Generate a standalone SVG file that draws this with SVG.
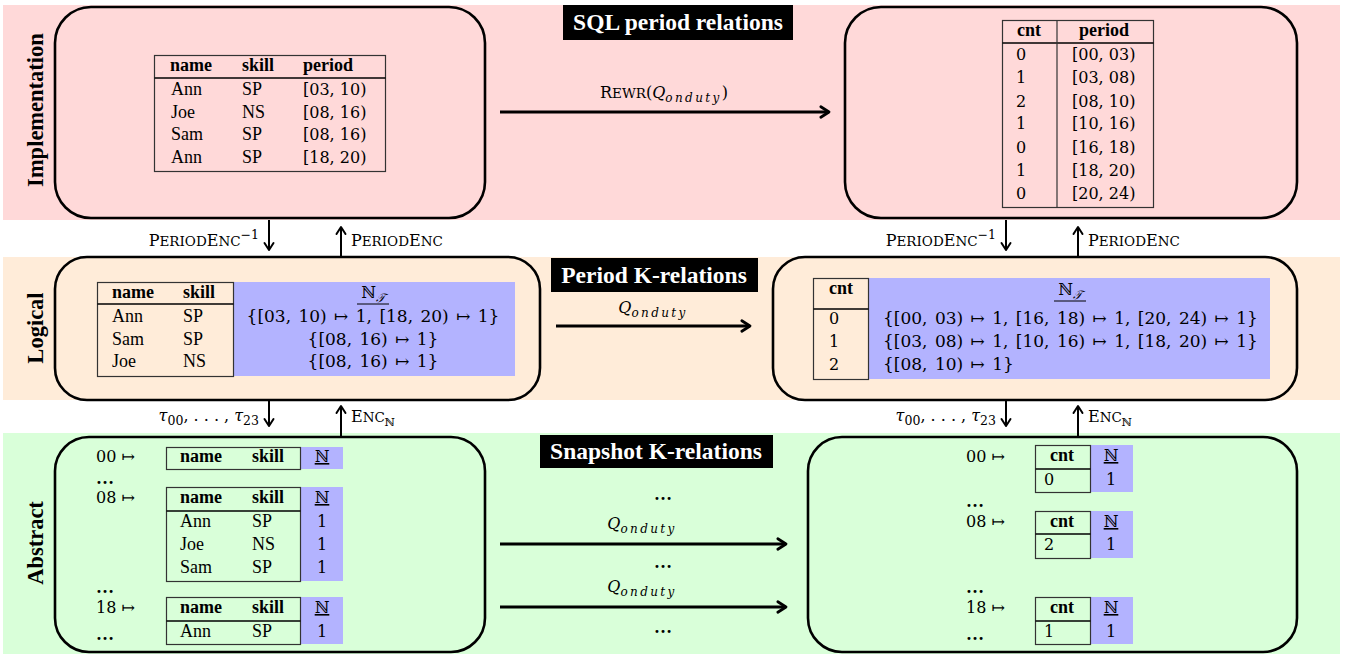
<svg xmlns="http://www.w3.org/2000/svg" width="1348" height="654" viewBox="0 0 1348 654">
<defs>
<style>
.t{font-family:"Liberation Serif","Times New Roman",serif;font-size:18px;fill:#000}
.b{font-weight:bold}
.m{font-family:"DejaVu Serif","Liberation Serif",serif;font-size:16px;fill:#000}
.row{font-size:17px;word-spacing:2px}
.i{font-style:italic}
.sub{font-size:12px;letter-spacing:2.4px}
.s{font-size:13.5px}
.side{font-family:"Liberation Serif",serif;font-size:22.5px;font-weight:bold;fill:#000}
.hdr{font-family:"Liberation Serif",serif;font-size:23.5px;font-weight:bold;fill:#fff}
.box{fill:none;stroke:#000;stroke-width:2.6}
.tbl{fill:none;stroke:#333;stroke-width:1.2}
.hl{stroke:#000;stroke-width:1.3}
.blue{fill:#b3b3ff}
.arr{fill:none;stroke:#000;stroke-width:2.8}
.varr{fill:none;stroke:#000;stroke-width:2}
.c{text-anchor:middle}
.e{text-anchor:end}
</style>
<marker id="ah" viewBox="0 0 12 12" refX="10" refY="6" markerWidth="14" markerHeight="14" markerUnits="userSpaceOnUse" orient="auto" overflow="visible">
<path d="M3,1.500 L10,6 L3,10.500" fill="none" stroke="#000" stroke-width="2.4" stroke-linecap="round" stroke-linejoin="round"/>
</marker>
<marker id="ahs" viewBox="0 0 12 12" refX="10" refY="6" markerWidth="12" markerHeight="12" markerUnits="userSpaceOnUse" orient="auto" overflow="visible">
<path d="M3,1.500 L10,6 L3,10.500" fill="none" stroke="#000" stroke-width="2" stroke-linecap="round" stroke-linejoin="round"/>
</marker>
</defs>
<rect width="1348" height="654" fill="#fff"/>
<!-- bands -->
<rect x="3" y="5" width="1337" height="215" fill="#ffd9d9"/>
<rect x="3" y="257" width="1337" height="143" fill="#ffecd9"/>
<rect x="3" y="433" width="1337" height="221" fill="#d9ffd9"/>
<text class="side c" transform="translate(43,110) rotate(-90)">Implementation</text>
<text class="side c" transform="translate(43,328) rotate(-90)">Logical</text>
<text class="side c" transform="translate(43,543) rotate(-90)">Abstract</text>

<!-- headers -->
<g id="hdr-sql"><rect x="563" y="5" width="230" height="35" fill="#000"/><text class="hdr c" x="678" y="30">SQL period relations</text></g>
<g id="hdr-period"><rect x="551" y="258" width="207" height="34" fill="#000"/><text class="hdr c" x="654" y="283">Period K-relations</text></g>
<g id="hdr-snap"><rect x="540" y="435" width="233" height="33" fill="#000"/><text class="hdr c" x="656" y="459">Snapshot K-relations</text></g>

<!-- Implementation left -->
<g id="impl-left">
<rect class="box" x="55" y="7" width="430" height="211" rx="36"/>
<rect class="tbl" x="154.500" y="55.500" width="231" height="116"/>
<line class="hl" x1="154.500" y1="78" x2="385.500" y2="78"/>
<text class="t b" x="170" y="71">name</text><text class="t b" x="242" y="71">skill</text><text class="t b" x="303" y="71">period</text>
<text class="t" x="171" y="95">Ann</text><text class="t" x="242" y="95">SP</text><text class="m" x="303" y="95">[03, 10)</text>
<text class="t" x="171" y="118">Joe</text><text class="t" x="242" y="118">NS</text><text class="m" x="303" y="118">[08, 16)</text>
<text class="t" x="171" y="140">Sam</text><text class="t" x="242" y="140">SP</text><text class="m" x="303" y="140">[08, 16)</text>
<text class="t" x="171" y="163">Ann</text><text class="t" x="242" y="163">SP</text><text class="m" x="303" y="163">[18, 20)</text>
</g>

<!-- Implementation right -->
<g id="impl-right">
<rect class="box" x="845" y="7" width="452" height="211" rx="36"/>
<rect class="tbl" x="1002.500" y="20.500" width="151" height="187"/>
<line class="hl" x1="1002.500" y1="43" x2="1153.500" y2="43"/>
<line class="tbl" x1="1057" y1="20.500" x2="1057" y2="207.500"/>
<text class="t b c" x="1029" y="36">cnt</text><text class="t b c" x="1104" y="36">period</text>
<g class="m">
<text x="1016" y="60">0</text><text x="1016" y="83">1</text><text x="1016" y="107">2</text><text x="1016" y="129">1</text><text x="1016" y="153">0</text><text x="1016" y="176">1</text><text x="1016" y="199">0</text>
<text x="1072" y="60">[00, 03)</text><text x="1072" y="83">[03, 08)</text><text x="1072" y="107">[08, 10)</text><text x="1072" y="129">[10, 16)</text><text x="1072" y="153">[16, 18)</text><text x="1072" y="176">[18, 20)</text><text x="1072" y="199">[20, 24)</text>
</g>
</g>

<!-- Logical left -->
<g id="logical-left">
<rect class="box" x="55" y="257" width="485" height="143" rx="32"/>
<rect class="blue" x="233" y="282" width="282" height="94"/>
<rect class="tbl" x="97.500" y="282.500" width="136" height="94"/>
<line class="hl" x1="97.500" y1="304" x2="233.500" y2="304"/>
<text class="t b" x="112" y="298">name</text><text class="t b" x="183" y="298">skill</text>
<text class="t" x="112" y="322">Ann</text><text class="t" x="183" y="322">SP</text>
<text class="t" x="112" y="345">Sam</text><text class="t" x="183" y="345">SP</text>
<text class="t" x="112" y="367">Joe</text><text class="t" x="183" y="367">NS</text>
<text class="m c" x="373" y="298">ℕ<tspan class="i" font-size="12" dy="4">𝒯</tspan></text>
<line x1="357" y1="304" x2="389" y2="304" stroke="#000" stroke-width="1"/>
<text class="m row c" x="373" y="322">{[03, 10) ↦ 1, [18, 20) ↦ 1}</text>
<text class="m row c" x="373" y="345">{[08, 16) ↦ 1}</text>
<text class="m row c" x="373" y="367">{[08, 16) ↦ 1}</text>
</g>

<!-- Logical right -->
<g id="logical-right">
<rect class="box" x="773" y="257" width="524" height="143" rx="32"/>
<rect class="blue" x="868" y="278" width="402" height="101"/>
<rect class="tbl" x="813.500" y="278.500" width="55" height="101"/>
<line class="hl" x1="813.500" y1="309" x2="868.500" y2="309"/>
<text class="t b c" x="841" y="294">cnt</text>
<text class="m" x="829" y="324">0</text><text class="m" x="829" y="347">1</text><text class="m" x="829" y="370">2</text>
<text class="m c" x="1070" y="295">ℕ<tspan class="i" font-size="12" dy="4">𝒯</tspan></text>
<line x1="1054" y1="301" x2="1086" y2="301" stroke="#000" stroke-width="1"/>
<text class="m row" x="883" y="324">{[00, 03) ↦ 1, [16, 18) ↦ 1, [20, 24) ↦ 1}</text>
<text class="m row" x="883" y="347">{[03, 08) ↦ 1, [10, 16) ↦ 1, [18, 20) ↦ 1}</text>
<text class="m row" x="883" y="370">{[08, 10) ↦ 1}</text>
</g>

<!-- Abstract left -->
<g id="abstract-left">
<rect class="box" x="55" y="437" width="430" height="215" rx="34"/>
<text class="m" x="96" y="462">00 ↦</text>
<rect class="blue" x="300" y="447" width="43" height="22"/>
<rect class="tbl" x="166.500" y="447.500" width="134" height="22"/>
<text class="t b" x="180" y="462">name</text><text class="t b" x="252" y="462">skill</text>
<text class="m c" x="322" y="462" text-decoration="underline">ℕ</text>
<text class="t b" x="96" y="484">…</text>
<text class="m" x="96" y="503">08 ↦</text>
<rect class="blue" x="300" y="487" width="43" height="94"/>
<rect class="tbl" x="166.500" y="487.500" width="134" height="94"/>
<line class="hl" x1="166.500" y1="511" x2="300.500" y2="511"/>
<text class="t b" x="180" y="503">name</text><text class="t b" x="252" y="503">skill</text>
<text class="m c" x="322" y="503" text-decoration="underline">ℕ</text>
<text class="t" x="180" y="527">Ann</text><text class="t" x="252" y="527">SP</text><text class="m c" x="322" y="527">1</text>
<text class="t" x="180" y="550">Joe</text><text class="t" x="252" y="550">NS</text><text class="m c" x="322" y="550">1</text>
<text class="t" x="180" y="573">Sam</text><text class="t" x="252" y="573">SP</text><text class="m c" x="322" y="573">1</text>
<text class="t b" x="96" y="593">…</text>
<text class="m" x="96" y="613">18 ↦</text>
<rect class="blue" x="300" y="597" width="43" height="47"/>
<rect class="tbl" x="166.500" y="597.500" width="134" height="47"/>
<line class="hl" x1="166.500" y1="621" x2="300.500" y2="621"/>
<text class="t b" x="180" y="613">name</text><text class="t b" x="252" y="613">skill</text>
<text class="m c" x="322" y="613" text-decoration="underline">ℕ</text>
<text class="t" x="180" y="637">Ann</text><text class="t" x="252" y="637">SP</text><text class="m c" x="322" y="637">1</text>
<text class="t b" x="96" y="640">…</text>
</g>

<!-- Abstract right -->
<g id="abstract-right">
<rect class="box" x="808" y="437" width="489" height="215" rx="34"/>
<text class="m" x="966" y="462">00 ↦</text>
<rect class="blue" x="1090" y="445" width="43" height="47"/>
<rect class="tbl" x="1035.500" y="445.500" width="55" height="47"/>
<line class="hl" x1="1035.500" y1="469" x2="1090.500" y2="469"/>
<text class="t b c" x="1062" y="461">cnt</text><text class="m" x="1044" y="485">0</text>
<text class="m c" x="1111" y="461" text-decoration="underline">ℕ</text><text class="m c" x="1111" y="485">1</text>
<text class="t b" x="966" y="507">…</text>
<text class="m" x="966" y="527">08 ↦</text>
<rect class="blue" x="1090" y="511" width="43" height="47"/>
<rect class="tbl" x="1035.500" y="511.500" width="55" height="47"/>
<line class="hl" x1="1035.500" y1="534" x2="1090.500" y2="534"/>
<text class="t b c" x="1062" y="527">cnt</text><text class="m" x="1044" y="550">2</text>
<text class="m c" x="1111" y="527" text-decoration="underline">ℕ</text><text class="m c" x="1111" y="550">1</text>
<text class="t b" x="966" y="593">…</text>
<text class="m" x="966" y="613">18 ↦</text>
<rect class="blue" x="1090" y="597" width="43" height="47"/>
<rect class="tbl" x="1035.500" y="597.500" width="55" height="47"/>
<line class="hl" x1="1035.500" y1="621" x2="1090.500" y2="621"/>
<text class="t b c" x="1062" y="613">cnt</text><text class="m" x="1044" y="637">1</text>
<text class="m c" x="1111" y="613" text-decoration="underline">ℕ</text><text class="m c" x="1111" y="637">1</text>
<text class="t b" x="966" y="640">…</text>
</g>

<!-- connectors -->
<g id="connectors">
<line class="arr" x1="500" y1="112" x2="829" y2="112" marker-end="url(#ah)"/>
<text class="m c" x="664" y="98" font-size="18">R<tspan class="s">EWR</tspan>(<tspan class="i">Q</tspan><tspan class="i sub" dy="4">onduty</tspan><tspan dy="-4">)</tspan></text>

<line class="arr" x1="556" y1="326" x2="750" y2="326" marker-end="url(#ah)"/>
<text class="m c" x="653" y="313" font-size="18"><tspan class="i">Q</tspan><tspan class="i sub" dy="4">onduty</tspan></text>

<text class="t b c" x="663" y="500">…</text>
<line class="arr" x1="500" y1="544" x2="786" y2="544" marker-end="url(#ah)"/>
<text class="m c" x="642" y="529" font-size="18"><tspan class="i">Q</tspan><tspan class="i sub" dy="4">onduty</tspan></text>
<text class="t b c" x="663" y="568">…</text>
<line class="arr" x1="500" y1="607" x2="786" y2="607" marker-end="url(#ah)"/>
<text class="m c" x="642" y="592" font-size="18"><tspan class="i">Q</tspan><tspan class="i sub" dy="4">onduty</tspan></text>
<text class="t b c" x="663" y="633">…</text>

<!-- vertical: impl <-> logical -->
<line class="varr" x1="269" y1="220" x2="269" y2="250" marker-end="url(#ahs)"/>
<text class="m e" x="259" y="246" font-size="17">P<tspan class="s">ERIOD</tspan>E<tspan class="s">NC</tspan><tspan font-size="12.5" dy="-7">−1</tspan></text>
<line class="varr" x1="341" y1="257" x2="341" y2="227" marker-end="url(#ahs)"/>
<text class="m" x="351" y="246" font-size="17">P<tspan class="s">ERIOD</tspan>E<tspan class="s">NC</tspan></text>

<line class="varr" x1="1006" y1="220" x2="1006" y2="250" marker-end="url(#ahs)"/>
<text class="m e" x="996" y="246" font-size="17">P<tspan class="s">ERIOD</tspan>E<tspan class="s">NC</tspan><tspan font-size="12.5" dy="-7">−1</tspan></text>
<line class="varr" x1="1078" y1="257" x2="1078" y2="227" marker-end="url(#ahs)"/>
<text class="m" x="1088" y="246" font-size="17">P<tspan class="s">ERIOD</tspan>E<tspan class="s">NC</tspan></text>

<!-- vertical: logical <-> abstract -->
<line class="varr" x1="269" y1="400" x2="269" y2="426" marker-end="url(#ahs)"/>
<text class="m e" x="259" y="421" font-size="17"><tspan class="i">τ</tspan><tspan font-size="12.5" dy="4">00</tspan><tspan dy="-4">, . . . , </tspan><tspan class="i">τ</tspan><tspan font-size="12.5" dy="4">23</tspan></text>
<line class="varr" x1="341" y1="437" x2="341" y2="406" marker-end="url(#ahs)"/>
<text class="m" x="351" y="422" font-size="17">E<tspan class="s">NC</tspan><tspan font-size="11" dy="4">ℕ</tspan></text>

<line class="varr" x1="1006" y1="400" x2="1006" y2="426" marker-end="url(#ahs)"/>
<text class="m e" x="996" y="421" font-size="17"><tspan class="i">τ</tspan><tspan font-size="12.5" dy="4">00</tspan><tspan dy="-4">, . . . , </tspan><tspan class="i">τ</tspan><tspan font-size="12.5" dy="4">23</tspan></text>
<line class="varr" x1="1078" y1="437" x2="1078" y2="406" marker-end="url(#ahs)"/>
<text class="m" x="1088" y="422" font-size="17">E<tspan class="s">NC</tspan><tspan font-size="11" dy="4">ℕ</tspan></text>
</g>
</svg>
